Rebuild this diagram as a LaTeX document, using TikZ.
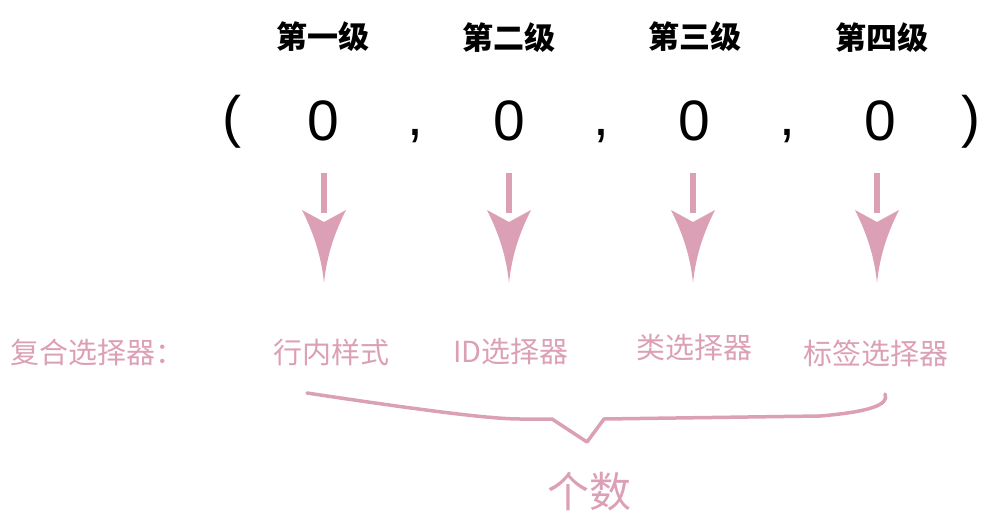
\documentclass[tikz,border=0pt]{standalone}
\usepackage{fontspec}
\setmainfont{Liberation Sans}
\newfontfamily\cjk{Noto Sans CJK SC}
\definecolor{pinkc}{RGB}{220,160,182}
\tikzset{
  title/.style={font=\cjk\bfseries\fontsize{31}{34}\selectfont, text=black, inner sep=0pt},
  digit/.style={font=\fontsize{57}{60}\selectfont, text=black, inner sep=0pt},
  lab/.style={font=\cjk\fontsize{29}{32}\selectfont, text=pinkc, inner sep=0pt},
  bigtext/.style={font=\cjk\fontsize{42}{46}\selectfont, text=pinkc, inner sep=0pt},
  brace/.style={draw=pinkc, line width=3.5pt, line join=round, line cap=round},
  pics/bigarrow/.style={code={
    \fill[pinkc] (-3.2,0) rectangle (3.2,40);
    \fill[pinkc] (-22,37) .. controls (-12,57) and (-3,80) .. (0,110)
       .. controls (3,80) and (12,57) .. (22,37) -- (0,49) -- cycle;
  }}
}
\begin{document}
\begin{tikzpicture}[x=1pt,y=-1pt]
\useasboundingbox (0,0) rectangle (988,524);
% titles
\node[title] (t1) at (323,37) {第一级};
\node[title] (t2) at (509,38) {第二级};
\node[title] (t3) at (695,37) {第三级};
\node[title] (t4) at (882,38) {第四级};
% tuple
\node[digit] (lp) at (232,122) {(};
\node[digit] (d1) at (323,121) {0};
\node[digit] (c1) at (415,136) {,};
\node[digit] (d2) at (509,121) {0};
\node[digit] (c2) at (601,136) {,};
\node[digit] (d3) at (694,121) {0};
\node[digit] (c3) at (787,136) {,};
\node[digit] (d4) at (880,121) {0};
\node[digit] (rp) at (971,122) {)};
% arrows
\coordinate (a1) at (324,173);
\coordinate (a2) at (509,173);
\coordinate (a3) at (693,173);
\coordinate (a4) at (877,173);
\foreach \i in {1,...,4} { \pic at (a\i) {bigarrow}; }
% labels
\node[lab, anchor=west] (l0) at (10,352) {复合选择器：};
\node[lab] (l1) at (331,352) {行内样式};
\node[lab] (l2) at (511,352) {ID选择器};
\node[lab] (l3) at (694,348) {类选择器};
\node[lab] (l4) at (876,353) {标签选择器};
% brace
\coordinate (b0) at (307,393);
\coordinate (b1) at (552,419);
\coordinate (bt) at (587,442);
\coordinate (b2) at (604,419);
\coordinate (b3) at (885,394);
\draw[brace] (b0) .. controls (420,410) and (490,419) .. (520,419) -- (b1) -- (bt) -- (b2)
   -- (820,416) .. controls (868,412) and (890,405) .. (b3);
\node[bigtext] (cnt) at (589,492) {个数};
\end{tikzpicture}
\end{document}
